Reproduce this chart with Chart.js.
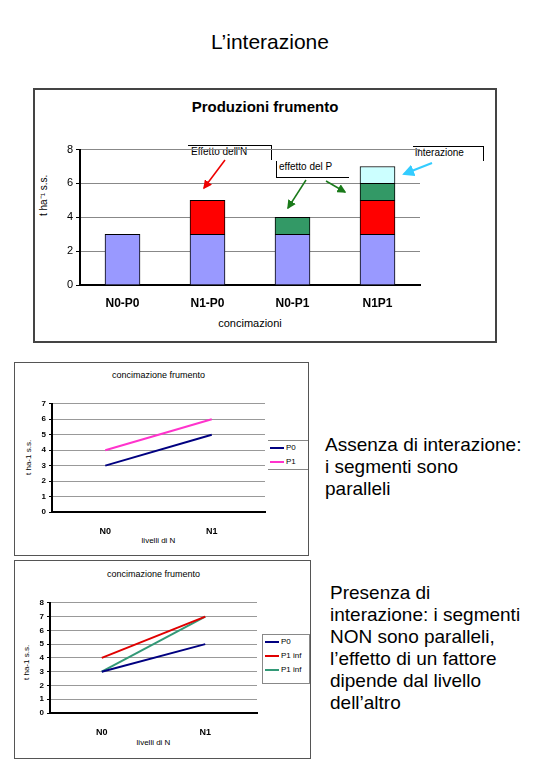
<!DOCTYPE html>
<html><head><meta charset="utf-8">
<script src="https://cdn.jsdelivr.net/npm/chart.js@4"></script>
<style>
body{margin:0;width:540px;height:780px;background:#fff;font-family:"Liberation Sans",Arial,sans-serif;position:relative;overflow:hidden;color:#000}
.a{position:absolute;white-space:nowrap;color:#000}
.frame{position:absolute;border:1px solid #555;box-sizing:border-box}
canvas{position:absolute}
</style></head><body>
<script>
// ---- data ----
const cats1 = ["N0-P0","N1-P0","N0-P1","N1P1"];
const base1 = [3,3,3,3];
const effN = [0,2,0,2];
const effP = [0,0,1,1];
const inter = [0,0,0,1];
const yTicks1 = [0,2,4,6,8];
const cats2 = ["N0","N1"];
const names2 = ["P0","P1"];
const p0_2 = [3,5];
const p1_2 = [4,6];
const names3 = ["P0","P1 inf","P1 inf"];
const p0_3 = [3,5];
const p1a_3 = [4,7];
const p1b_3 = [3,7];
</script>
<div class="a" style="left:0;width:540px;top:30px;text-align:center;font-size:21px">L’interazione</div>

<div class="frame" style="left:33px;top:88px;width:464px;height:255px;border:2px solid #444"></div>
<div class="a" style="left:33px;width:464px;top:98px;text-align:center;font-size:15px;font-weight:bold">Produzioni frumento</div>
<div class="a" style="left:36px;top:216px;font-size:10px;transform:rotate(-90deg);transform-origin:0 0">t ha⁻¹ s.s.</div>
<div class="a" style="left:80px;width:340px;top:317px;text-align:center;font-size:11px">concimazioni</div>
<div class="a" style="left:188px;top:145px;width:80px;height:14px;border-top:1px solid #000;border-right:1px solid #000;font-size:10px;padding-left:3px">Effetto dell'N</div>
<div class="a" style="left:276px;top:161px;width:70px;height:16px;border-left:1px solid #000;border-bottom:1px solid #000;font-size:10px;padding-left:2px">effetto del P</div>
<div class="a" style="left:413px;top:146px;width:68px;height:14px;border-top:1px solid #000;border-right:1px solid #000;font-size:10px;padding-left:2px">interazione</div>
<canvas id="c1" style="left:50px;top:140px;width:375px;height:175px"></canvas>

<div class="frame" style="left:14px;top:362px;width:295px;height:194px"></div>
<div class="a" style="left:52px;width:213px;top:370px;text-align:center;font-size:9px">concimazione frumento</div>
<div class="a" style="left:24px;top:475px;font-size:8px;transform:rotate(-90deg);transform-origin:0 0">t ha-1 s.s.</div>
<div class="a" style="left:52px;width:213px;top:536px;text-align:center;font-size:8px">livelli di N</div>
<div id="lg2" class="a" style="left:268px;top:440px;width:40px;height:28px;border-top:1px solid #888;border-bottom:1px solid #888;font-size:8px"></div>
<canvas id="c2" style="left:25px;top:396px;width:245px;height:140px"></canvas>
<div class="a" style="left:325px;top:434px;font-size:19px;line-height:22px">Assenza di interazione:<br>i segmenti sono<br>paralleli</div>

<div class="frame" style="left:14px;top:560px;width:297px;height:199px"></div>
<div class="a" style="left:50px;width:207px;top:569px;text-align:center;font-size:9px">concimazione frumento</div>
<div class="a" style="left:22px;top:680px;font-size:8px;transform:rotate(-90deg);transform-origin:0 0">t ha-1 s.s.</div>
<div class="a" style="left:50px;width:207px;top:738px;text-align:center;font-size:8px">livelli di N</div>
<div id="lg3" class="a" style="left:262px;top:634px;width:46px;height:48px;border:1px solid #888;font-size:8px"></div>
<canvas id="c3" style="left:25px;top:595px;width:237px;height:140px"></canvas>
<div class="a" style="left:330px;top:582px;font-size:19px;line-height:22px">Presenza di<br>interazione: i segmenti<br>NON sono paralleli,<br>l’effetto di un fattore<br>dipende dal livello<br>dell’altro</div>

<svg style="position:absolute;left:0;top:0" width="540" height="780">
<defs>
<marker id="mr" markerWidth="6" markerHeight="6" refX="5" refY="3" orient="auto"><path d="M0,0L6,3L0,6z" fill="#e00"/></marker>
<marker id="mg" markerWidth="6" markerHeight="6" refX="5" refY="3" orient="auto"><path d="M0,0L6,3L0,6z" fill="#1a7a1a"/></marker>
<marker id="mc" markerWidth="6" markerHeight="6" refX="5" refY="3" orient="auto"><path d="M0,0L6,3L0,6z" fill="#3cf"/></marker>
</defs>
<line x1="225" y1="160" x2="204" y2="188" stroke="#e00" stroke-width="1.5" marker-end="url(#mr)"/>
<line x1="306" y1="180" x2="288" y2="208" stroke="#1a7a1a" stroke-width="1.5" marker-end="url(#mg)"/>
<line x1="326" y1="181" x2="345" y2="192" stroke="#1a7a1a" stroke-width="1.5" marker-end="url(#mg)"/>
<line x1="432" y1="163" x2="404" y2="174" stroke="#3cf" stroke-width="2" marker-end="url(#mc)"/>
</svg>
<script>
function legend(id, names, colors){
  const el=document.getElementById(id);
  el.innerHTML=names.map((n,i)=>`<div style="height:14px;line-height:14px;padding-left:2px"><span style="display:inline-block;width:14px;height:2px;background:${colors[i]};vertical-align:middle;margin-right:2px"></span>${n}</div>`).join('');
}
const c2cols=["#000080","#ff33cc"], c3cols=["#000080","#e00000","#339977"];
legend('lg2',names2,c2cols); legend('lg3',names3,c3cols);

function bar(label,data,color){return {label,data,backgroundColor:color,borderColor:'#000',borderWidth:1,barThickness:35};}
new Chart(document.getElementById('c1'),{type:'bar',
 data:{labels:cats1,datasets:[bar('base',base1,'#9999ff'),bar('N',effN,'#ff0000'),bar('P',effP,'#339966'),bar('int',inter,'#ccffff')]},
 options:{responsive:false,animation:false,layout:{padding:{top:8,right:5}},
  plugins:{legend:{display:false},tooltip:{enabled:false}},
  scales:{x:{stacked:true,afterFit:s=>{s.height=30},grid:{display:false},border:{color:'#000',width:2},
     ticks:{color:'#000',font:{size:12,weight:'bold',family:'Liberation Sans'},padding:3}},
   y:{stacked:true,min:0,max:8,afterFit:s=>{s.width=30},afterBuildTicks:s=>{s.ticks=yTicks1.map(v=>({value:v}))},
     grid:{color:'#888',tickLength:4,tickColor:'#000'},border:{color:'#000',width:2},
     ticks:{color:'#000',font:{size:11,family:'Liberation Sans'}}}}}});

function lineChart(id,datasets,max,yw,xh){
 new Chart(document.getElementById(id),{type:'line',data:{labels:cats2,datasets},
 options:{responsive:false,animation:false,layout:{padding:{top:6,right:5}},
  plugins:{legend:{display:false},tooltip:{enabled:false}},
  scales:{x:{offset:true,afterFit:s=>{s.height=xh},grid:{display:false},border:{color:'#000',width:2},
     ticks:{color:'#000',font:{size:9,weight:'bold',family:'Liberation Sans'},padding:6}},
   y:{min:0,max:max,afterFit:s=>{s.width=yw},ticks:{stepSize:1,color:'#000',font:{size:8,weight:'bold',family:'Liberation Sans'}},
     grid:{color:'#999',tickLength:3,tickColor:'#000'},border:{color:'#000',width:2}}}}});
}
function ln(label,data,color){return {label,data,borderColor:color,borderWidth:2,pointRadius:0,fill:false,tension:0};}
lineChart('c2',[ln(names2[0],p0_2,c2cols[0]),ln(names2[1],p1_2,c2cols[1])],7,27,24);
lineChart('c3',[ln(names3[0],p0_3,c3cols[0]),ln(names3[1],p1a_3,c3cols[1]),ln(names3[2],p1b_3,c3cols[2])],8,25,22);
</script>
</body></html>
